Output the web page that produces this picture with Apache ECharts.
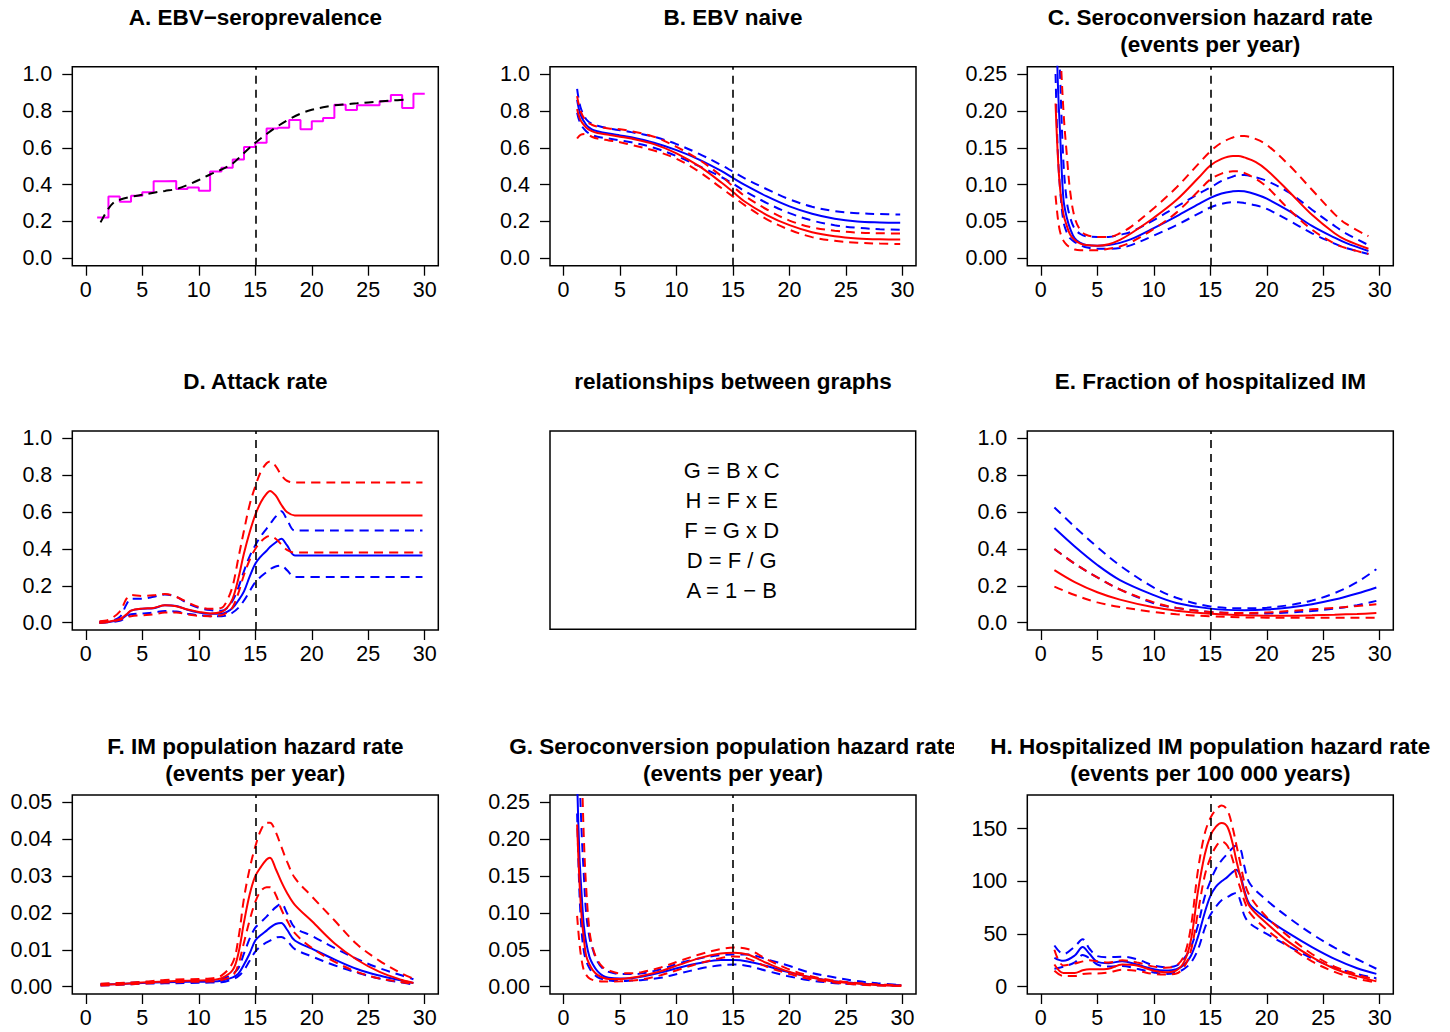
<!DOCTYPE html>
<html><head><meta charset="utf-8">
<script src="https://cdn.jsdelivr.net/npm/echarts@6/dist/echarts.min.js"></script>
<style>html,body{margin:0;padding:0;background:#fff}#c{width:1450px;height:1032px}</style>
</head><body><div id="c"></div>
<script>
// ---------- tick labels ----------
const xTicks = [0, 5, 10, 15, 20, 25, 30];
const yTicksUnit = [0, 0.2, 0.4, 0.6, 0.8, 1.0];
const yTicksHaz = [0, 0.05, 0.10, 0.15, 0.20, 0.25];
const yTicksIM = [0, 0.01, 0.02, 0.03, 0.04, 0.05];
const yTicksHosp = [0, 50, 100, 150];

// ---------- A. EBV-seroprevalence ----------
const ageA = [1,2,3,4,5,6,7,8,9,10,11,12,13,14,15,16,17,18,19,20,21,22,23,24,25,26,27,28,29,30];
const seroObs = [0.222,0.335,0.307,0.34,0.358,0.418,0.42,0.376,0.385,0.367,0.471,0.491,0.536,0.604,0.627,0.705,0.709,0.751,0.70,0.744,0.762,0.833,0.805,0.831,0.831,0.853,0.887,0.816,0.893,0.893];
const ageAfit = [1.3,2,2.5,3,4,5,6,7,8,9,10,11,12,13,14,15,16,17,18,19,20,21,22,23,24,25,26,27,28.5];
const seroFit = [0.195,0.27,0.305,0.318,0.334,0.345,0.356,0.366,0.376,0.398,0.425,0.455,0.482,0.515,0.572,0.627,0.675,0.718,0.755,0.785,0.806,0.82,0.83,0.836,0.841,0.846,0.851,0.856,0.862];

// ---------- B. EBV naive ----------
const ageB = [1.2,1.5,2,2.5,3,4,5,6,8,10,12,14,15,16,18,20,22,24,26,28,29.8];
const bRed   = [0.81,0.75,0.71,0.69,0.68,0.67,0.66,0.65,0.62,0.57,0.50,0.41,0.36,0.31,0.235,0.18,0.142,0.12,0.108,0.103,0.102];
const bRedHi = [0.88,0.80,0.745,0.725,0.715,0.705,0.70,0.69,0.66,0.605,0.535,0.445,0.39,0.34,0.265,0.205,0.168,0.15,0.14,0.136,0.135];
const bRedLo = [0.65,0.67,0.675,0.66,0.65,0.64,0.63,0.615,0.585,0.54,0.47,0.38,0.335,0.29,0.212,0.155,0.115,0.095,0.085,0.08,0.078];
const bBlue   = [0.86,0.78,0.725,0.70,0.69,0.677,0.667,0.657,0.627,0.587,0.536,0.473,0.436,0.40,0.336,0.282,0.242,0.215,0.20,0.195,0.193];
const bBlueHi = [0.92,0.82,0.755,0.73,0.72,0.705,0.695,0.685,0.66,0.62,0.567,0.505,0.47,0.435,0.375,0.32,0.28,0.256,0.245,0.24,0.238];
const bBlueLo = [0.79,0.73,0.69,0.67,0.66,0.65,0.64,0.63,0.60,0.555,0.50,0.44,0.405,0.366,0.30,0.245,0.205,0.18,0.166,0.158,0.155];

// ---------- C. Seroconversion hazard rate ----------
const ageC = [1.3,1.5,1.7,2,2.3,2.6,3,3.5,4,5,6,7,8,10,12,14,15,16,17,17.5,18,19,20,22,24,26,27,29];
const cRed   = [0.21,0.14,0.095,0.06,0.044,0.032,0.025,0.02,0.018,0.017,0.019,0.025,0.034,0.055,0.079,0.11,0.126,0.135,0.139,0.139,0.137,0.131,0.12,0.09,0.059,0.034,0.025,0.013];
const cRedHi = [0.6,0.45,0.3,0.2,0.14,0.09,0.055,0.038,0.032,0.029,0.029,0.034,0.043,0.068,0.096,0.129,0.145,0.157,0.164,0.166,0.166,0.162,0.154,0.126,0.093,0.06,0.047,0.03];
const cRedLo = [0.085,0.055,0.036,0.024,0.018,0.015,0.012,0.011,0.011,0.011,0.013,0.016,0.022,0.04,0.062,0.092,0.107,0.115,0.118,0.118,0.116,0.108,0.097,0.066,0.039,0.02,0.014,0.006];
const cBlue   = [0.36,0.24,0.17,0.08,0.055,0.04,0.027,0.021,0.018,0.017,0.018,0.021,0.026,0.041,0.057,0.074,0.082,0.088,0.091,0.0915,0.091,0.087,0.081,0.064,0.044,0.028,0.021,0.010];
const cBlueHi = [0.5,0.35,0.25,0.13,0.077,0.055,0.04,0.033,0.03,0.029,0.029,0.032,0.036,0.052,0.07,0.088,0.096,0.105,0.111,0.113,0.113,0.11,0.105,0.089,0.066,0.044,0.034,0.018];
const cBlueLo = [0.25,0.145,0.095,0.05,0.035,0.027,0.022,0.018,0.015,0.013,0.013,0.014,0.018,0.031,0.045,0.061,0.069,0.074,0.076,0.076,0.075,0.072,0.067,0.051,0.034,0.02,0.014,0.006];

// ---------- D. Attack rate ----------
const ageD = [1.2,2,3,3.6,4,5,6,7,8,9,10,11,12,12.5,13,13.5,14,14.5,15,15.5,16,16.3,16.8,17.3,17.8,18.5,20,25,29.8];
const dRed   = [0,0.005,0.02,0.045,0.065,0.076,0.08,0.094,0.089,0.071,0.058,0.05,0.058,0.08,0.13,0.24,0.376,0.49,0.585,0.655,0.70,0.715,0.69,0.64,0.60,0.582,0.582,0.582,0.582];
const dRedHi = [0.008,0.015,0.06,0.13,0.15,0.145,0.148,0.155,0.14,0.11,0.085,0.075,0.08,0.12,0.2,0.35,0.5,0.64,0.74,0.82,0.865,0.875,0.85,0.80,0.77,0.76,0.76,0.76,0.76];
const dRedLo = [0,0.004,0.015,0.03,0.035,0.04,0.045,0.055,0.055,0.045,0.037,0.035,0.04,0.055,0.085,0.16,0.26,0.34,0.40,0.44,0.465,0.47,0.455,0.425,0.395,0.38,0.38,0.38,0.38];
const dBlue   = [0,0.003,0.015,0.04,0.065,0.075,0.078,0.094,0.09,0.07,0.055,0.048,0.048,0.058,0.08,0.12,0.17,0.25,0.32,0.36,0.39,0.41,0.435,0.455,0.42,0.365,0.365,0.365,0.365];
const dBlueHi = [0.003,0.008,0.03,0.1,0.13,0.13,0.14,0.153,0.14,0.105,0.08,0.068,0.065,0.08,0.12,0.19,0.28,0.36,0.42,0.47,0.51,0.535,0.575,0.605,0.56,0.5,0.5,0.5,0.5];
const dBlueLo = [0,0.002,0.01,0.03,0.045,0.05,0.055,0.063,0.06,0.048,0.04,0.035,0.034,0.04,0.055,0.08,0.12,0.17,0.22,0.25,0.275,0.29,0.305,0.31,0.285,0.248,0.248,0.248,0.248];

// ---------- E. Fraction of hospitalized IM ----------
const ageE = [1.2,3,5,7,10,12,15,18,20,22,24,26,28,29.7];
const eRed   = [0.285,0.22,0.165,0.125,0.083,0.065,0.048,0.04,0.038,0.038,0.04,0.043,0.047,0.052];
const eRedHi = [0.40,0.32,0.245,0.18,0.11,0.08,0.058,0.052,0.055,0.063,0.072,0.08,0.09,0.10];
const eRedLo = [0.195,0.15,0.11,0.085,0.058,0.045,0.035,0.028,0.027,0.026,0.026,0.026,0.026,0.027];
const eBlue   = [0.513,0.413,0.313,0.231,0.149,0.107,0.076,0.067,0.071,0.082,0.1,0.125,0.158,0.191];
const eBlueHi = [0.625,0.52,0.41,0.31,0.19,0.135,0.088,0.078,0.081,0.095,0.12,0.16,0.22,0.29];
const eBlueLo = [0.40,0.32,0.245,0.18,0.105,0.08,0.058,0.05,0.05,0.055,0.063,0.076,0.095,0.118];

// ---------- F. IM population hazard rate ----------
const ageF = [1.3,3,5,7,9,11,12,13,13.5,14,14.5,15,15.5,16,16.3,16.8,17.3,17.8,18.5,20,22,24,26,28,29];
const fRed   = [0.0005,0.0007,0.0011,0.0014,0.0016,0.0018,0.0023,0.0045,0.009,0.0175,0.025,0.030,0.0325,0.0345,0.035,0.032,0.0285,0.0255,0.0222,0.0178,0.0118,0.0073,0.004,0.0018,0.001];
const fRedHi = [0.0008,0.001,0.0013,0.0018,0.002,0.0022,0.003,0.0065,0.013,0.024,0.032,0.038,0.0425,0.0445,0.0445,0.042,0.038,0.034,0.0295,0.0245,0.018,0.0115,0.007,0.0035,0.0022];
const fRedLo = [0.0003,0.0005,0.0008,0.0011,0.0013,0.0014,0.0018,0.003,0.006,0.012,0.018,0.023,0.026,0.027,0.027,0.025,0.021,0.018,0.0145,0.0105,0.0068,0.004,0.0022,0.0012,0.0008];
const fBlue   = [0.0005,0.0007,0.001,0.0012,0.0013,0.0014,0.0016,0.0025,0.0035,0.006,0.009,0.0125,0.014,0.0152,0.016,0.017,0.0173,0.0155,0.0125,0.0103,0.0074,0.0048,0.003,0.0016,0.001];
const fBlueHi = [0.0007,0.0009,0.0012,0.0014,0.0016,0.0017,0.002,0.0035,0.005,0.009,0.013,0.016,0.0175,0.019,0.02,0.0215,0.0225,0.02,0.016,0.0138,0.0105,0.0075,0.005,0.003,0.002];
const fBlueLo = [0.0003,0.0005,0.0008,0.0009,0.001,0.0011,0.0012,0.002,0.0028,0.0045,0.007,0.0095,0.011,0.012,0.0125,0.0133,0.0135,0.0125,0.0102,0.0082,0.0058,0.0038,0.0022,0.0011,0.0006];

// ---------- G. Seroconversion population hazard rate ----------
const ageG = [1.2,1.4,1.6,1.8,2,2.3,2.6,3,3.5,4,5,6,7,8.6,10.3,12.1,13.9,15.1,16.3,18,19.8,21.6,23.6,25.7,27.8,29.9];
const gRed   = [0.22,0.145,0.095,0.065,0.042,0.03,0.022,0.016,0.012,0.0105,0.0105,0.012,0.0148,0.021,0.03,0.039,0.045,0.046,0.0435,0.032,0.021,0.0136,0.0077,0.0045,0.0023,0.0012];
const gRedHi = [0.5,0.38,0.3,0.2,0.135,0.075,0.052,0.036,0.026,0.022,0.018,0.018,0.02,0.026,0.035,0.044,0.051,0.053,0.051,0.037,0.0245,0.0154,0.009,0.0054,0.003,0.0018];
const gRedLo = [0.096,0.06,0.036,0.022,0.016,0.011,0.009,0.0075,0.007,0.007,0.0072,0.0082,0.01,0.0154,0.0236,0.032,0.0386,0.041,0.038,0.027,0.018,0.011,0.0064,0.0032,0.0015,0.0009];
const gBlue   = [0.28,0.18,0.125,0.082,0.06,0.04,0.03,0.021,0.0145,0.012,0.011,0.0115,0.0138,0.019,0.026,0.032,0.036,0.036,0.034,0.028,0.02,0.0136,0.008,0.005,0.0027,0.0018];
const gBlueHi = [0.5,0.3,0.21,0.15,0.1,0.066,0.05,0.034,0.024,0.02,0.017,0.017,0.018,0.0236,0.032,0.0386,0.0427,0.0436,0.0436,0.037,0.029,0.02,0.0136,0.0082,0.0045,0.0023];
const gBlueLo = [0.235,0.13,0.075,0.048,0.035,0.025,0.018,0.013,0.01,0.0085,0.0077,0.0082,0.009,0.012,0.018,0.0245,0.029,0.03,0.028,0.0213,0.0145,0.009,0.0054,0.0032,0.002,0.0014];

// ---------- H. Hospitalized IM population hazard rate ----------
const ageH = [1.2,2,3,3.7,4.3,5,6,7.2,8.5,10,11,12,12.7,13.3,13.9,14.5,15,15.5,16,16.5,17,17.3,17.7,18,18.5,20,22,24,26,28,29.7];
const hRed   = [21,13,13,15.5,16.5,16.5,17,21,20,15,13.7,15.5,24,45,90,125,143,152,155.5,152,135,120,103,90,76,60,42,28,17,10,5];
const hRedHi = [35,20,22,24,25,24,23,25,23,19,18,20,30,58,110,145,160,168,172,168,150,135,115,100,86,66,47,31,19,11.5,6.5];
const hRedLo = [15,10,10,12,12.5,12.5,13.5,16,15,12,11.5,12.5,19,35,70,105,122,133,138,134,120,106,92,82,70,54,38,24,14,7.5,4];
const hBlue   = [27.4,24.5,29.6,37.6,31.2,23.5,22.3,24.2,21,16.5,15.3,16.5,21,29.6,47,70,86,95,100,104,109,111,104,92,78,64.6,50.3,37.6,26.4,17.5,12.1];
const hBlueHi = [39,31,38,45,36,29,28,28.5,26,20,18.5,20,27,38,58,85,100,112,120,126,132,134,130,115,98,82,65,50,37,26,17];
const hBlueLo = [17,19,23,30,27,21,19,19.5,17,13.5,12,13.5,17,23,35,55,68,76,82,85,88,89,80,68,60,50,38,27,18,12,8];

// ---------- relationships text ----------
const relations = ['G = B x C', 'H = F x E', 'F = G x D', 'D = F / G', 'A = 1 \u2212 B'];

// ================= layout / styling =================
const FONT = '"Liberation Sans", Arial, Helvetica, sans-serif';
const RED = '#FF0000', BLUE = '#0000FF', MAG = '#FF00FF', BLK = '#000000';
const colX = [72.3, 550, 1027.3];
const rowY = [66.7, 431, 795];
const BOX_W = 366, BOX_H = 199;
const DASH = [9, 6];

const zip = (xs, ys) => xs.map((x, i) => [x, ys[i]]);

function band(x, r, rl, rh, b, bl, bh) {
  return [
    { x, y: bl, color: BLUE, dash: true },
    { x, y: bh, color: BLUE, dash: true },
    { x, y: b, color: BLUE },
    { x, y: rl, color: RED, dash: true },
    { x, y: rh, color: RED, dash: true },
    { x, y: r, color: RED }
  ];
}

const panels = [
  { col: 0, row: 0, title: ['A. EBV\u2212seroprevalence'], ymin: -0.04, ymax: 1.04, ticks: yTicksUnit, dec: 1,
    series: [ { x: ageA, y: seroObs, color: MAG, step: true }, { x: ageAfit, y: seroFit, color: BLK, dash: true } ] },
  { col: 1, row: 0, title: ['B. EBV naive'], ymin: -0.04, ymax: 1.04, ticks: yTicksUnit, dec: 1,
    series: band(ageB, bRed, bRedLo, bRedHi, bBlue, bBlueLo, bBlueHi) },
  { col: 2, row: 0, title: ['C. Seroconversion hazard rate', '(events per year)'], ymin: -0.01, ymax: 0.26, ticks: yTicksHaz, dec: 2,
    series: band(ageC, cRed, cRedLo, cRedHi, cBlue, cBlueLo, cBlueHi) },
  { col: 0, row: 1, title: ['D. Attack rate'], ymin: -0.04, ymax: 1.04, ticks: yTicksUnit, dec: 1,
    series: band(ageD, dRed, dRedLo, dRedHi, dBlue, dBlueLo, dBlueHi) },
  { col: 2, row: 1, title: ['E. Fraction of hospitalized IM'], ymin: -0.04, ymax: 1.04, ticks: yTicksUnit, dec: 1,
    series: band(ageE, eRed, eRedLo, eRedHi, eBlue, eBlueLo, eBlueHi) },
  { col: 0, row: 2, title: ['F. IM population hazard rate', '(events per year)'], ymin: -0.002, ymax: 0.052, ticks: yTicksIM, dec: 2,
    series: band(ageF, fRed, fRedLo, fRedHi, fBlue, fBlueLo, fBlueHi) },
  { col: 1, row: 2, title: ['G. Seroconversion population hazard rate', '(events per year)'], ymin: -0.01, ymax: 0.26, ticks: yTicksHaz, dec: 2,
    series: band(ageG, gRed, gRedLo, gRedHi, gBlue, gBlueLo, gBlueHi) },
  { col: 2, row: 2, title: ['H. Hospitalized IM population hazard rate', '(events per 100 000 years)'], ymin: -7, ymax: 182, ticks: yTicksHosp, dec: 0,
    series: band(ageH, hRed, hRedLo, hRedHi, hBlue, hBlueLo, hBlueHi) }
];

const titleY = [[17.5, 44.5], [381], [746, 773]];

const option = {
  animation: false,
  backgroundColor: '#fff',
  grid: [], xAxis: [], yAxis: [], series: [], graphic: []
};

panels.forEach((p, i) => {
  option.grid.push({ left: colX[p.col], top: rowY[p.row], width: BOX_W, height: BOX_H,
    show: true, borderColor: BLK, borderWidth: 1.5, backgroundColor: 'transparent', containLabel: false });
  option.xAxis.push({ gridIndex: i, type: 'value', min: -1.2, max: 31.2, position: 'bottom',
    axisLine: { show: false, onZero: false }, splitLine: { show: false },
    axisTick: { show: true, inside: false, customValues: xTicks, length: 10, lineStyle: { color: BLK, width: 1.3 } },
    axisLabel: { show: true, customValues: xTicks, margin: 13, fontSize: 21.5, color: BLK, fontFamily: FONT } });
  option.yAxis.push({ gridIndex: i, type: 'value', min: p.ymin, max: p.ymax, position: 'left',
    axisLine: { show: false, onZero: false }, splitLine: { show: false },
    axisTick: { show: true, inside: false, customValues: p.ticks, length: 10, lineStyle: { color: BLK, width: 1.3 } },
    axisLabel: { show: true, customValues: p.ticks, margin: 20, fontSize: 21.5, color: BLK, fontFamily: FONT,
      formatter: v => Number(v).toFixed(p.dec) } });
  p.series.forEach((s, k) => {
    const ser = {
      type: 'line', xAxisIndex: i, yAxisIndex: i, data: zip(s.x, s.y),
      symbol: 'none', showSymbol: false, silent: true, clip: true,
      smooth: s.step ? false : 0.35,
      lineStyle: { color: s.color, width: 2, type: s.dash ? DASH : 'solid' },
      z: 3
    };
    if (s.step) ser.step = 'end';
    if (k === 0) {
      ser.markLine = { silent: true, symbol: 'none', animation: false,
        label: { show: false },
        lineStyle: { color: BLK, width: 1.6, type: [8, 6] },
        data: [{ xAxis: 15 }] };
    }
    option.series.push(ser);
  });
  const cx = colX[p.col] + BOX_W / 2;
  p.title.forEach((t, j) => {
    option.graphic.push({ type: 'text', x: cx, y: titleY[p.row][j], z: 10,
      style: { text: t, fill: BLK, font: 'bold 22.5px ' + FONT, align: 'center', verticalAlign: 'middle' } });
  });
});

// G title is clipped at the right edge of its figure region in the original
option.graphic.push({ type: 'rect', shape: { x: 954, y: 728, width: 31, height: 34 }, style: { fill: '#fff' }, z: 20 });

// middle panel: relationships between graphs
option.graphic.push({ type: 'text', x: colX[1] + BOX_W / 2, y: titleY[1][0], z: 10,
  style: { text: 'relationships between graphs', fill: BLK, font: 'bold 22.5px ' + FONT, align: 'center', verticalAlign: 'middle' } });
option.graphic.push({ type: 'rect', shape: { x: colX[1], y: rowY[1], width: BOX_W - 0.3, height: BOX_H - 0.7 },
  style: { fill: 'none', stroke: BLK, lineWidth: 1.5 }, z: 5 });
relations.forEach((t, j) => {
  option.graphic.push({ type: 'text', x: 731.7, y: 470.8 + 30 * j, z: 10,
    style: { text: t, fill: BLK, font: '22px ' + FONT, align: 'center', verticalAlign: 'middle' } });
});

const chart = echarts.init(document.getElementById('c'), null, { renderer: 'svg', width: 1450, height: 1032 });
chart.setOption(option);
</script></body></html>
